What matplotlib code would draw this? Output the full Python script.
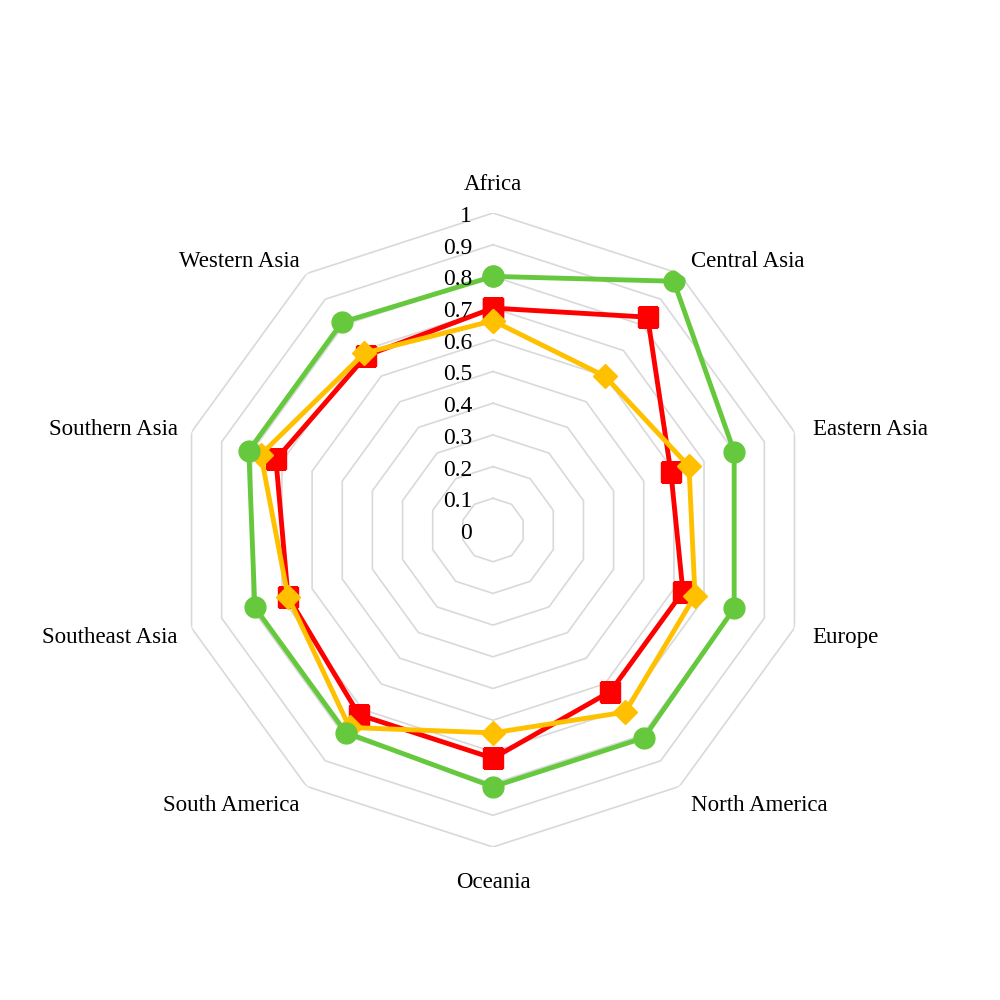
import matplotlib.pyplot as plt
import numpy as np

# data
regions = ["Africa", "Central Asia", "Eastern Asia", "Europe", "North America",
           "Oceania", "South America", "Southeast Asia", "Southern Asia", "Western Asia"]
green_vals = [0.80, 0.97, 0.80, 0.80, 0.81, 0.81, 0.79, 0.79, 0.81, 0.81]
red_vals = [0.70, 0.83, 0.59, 0.63, 0.63, 0.72, 0.72, 0.68, 0.72, 0.68]
orange_vals = [0.66, 0.60, 0.65, 0.67, 0.71, 0.64, 0.77, 0.68, 0.77, 0.69]
ring_levels = [0.1, 0.2, 0.3, 0.4, 0.5, 0.6, 0.7, 0.8, 0.9, 1.0]
tick_labels = ["0", "0.1", "0.2", "0.3", "0.4", "0.5", "0.6", "0.7", "0.8", "0.9", "1"]

plt.rcParams['font.family'] = ['Liberation Serif', 'DejaVu Serif']

n = len(regions)
theta = np.linspace(0, 2 * np.pi, n, endpoint=False)
theta_closed = np.append(theta, theta[0])


def closed(v):
    return np.append(v, v[0])


fig = plt.figure(figsize=(10, 10), dpi=100)
ax = fig.add_axes([0.176, 0.153, 0.634, 0.634], projection='polar')
ax.set_theta_offset(np.pi / 2)
ax.set_theta_direction(-1)
ax.set_ylim(0, 1)
ax.grid(False)
ax.spines['polar'].set_visible(False)
ax.set_xticks([])
ax.set_yticks([])
ax.patch.set_visible(False)

# decagon grid rings
for lvl in ring_levels:
    ax.plot(theta_closed, [lvl] * (n + 1), color='#d9d9d9', lw=1.2, zorder=1)

# series
ax.plot(theta_closed, closed(red_vals), color='#ff0000', lw=3.5, marker='s',
        markersize=15, zorder=3)
ax.plot(theta_closed, closed(orange_vals), color='#ffc000', lw=3.5, marker='D',
        markersize=12, zorder=4)
ax.plot(theta_closed, closed(green_vals), color='#66c83c', lw=3.5, marker='o',
        markersize=15, zorder=5)

# radial tick labels along the top axis
for i, lab in enumerate(tick_labels):
    r = i / 10
    ax.annotate(lab, xy=(0, r), xytext=(-15, -2.5), textcoords='offset points',
                ha='right', va='center', fontsize=17, zorder=6,
                annotation_clip=False)

# category labels
for t, name in zip(theta, regions):
    deg = np.degrees(t) % 360
    if deg < 1 or abs(deg - 180) < 1:
        ha, r, dx = 'center', 1.10, 0
    elif deg < 180:
        ha, r, dx = 'left', 1.06, 0
    else:
        ha, r, dx = 'right', 1.06, 3
    ax.annotate(name, xy=(t, r), xytext=(dx, -2.5), textcoords='offset points',
                ha=ha, va='center', fontsize=16.5, annotation_clip=False)

fig.savefig('out.png', dpi=100, facecolor='white')
